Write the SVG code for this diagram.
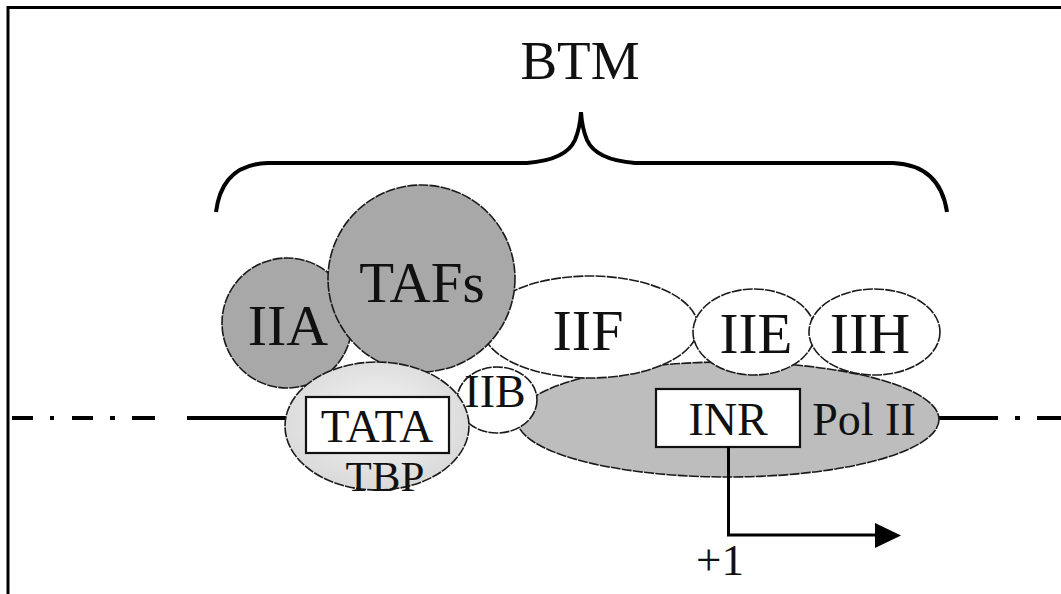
<svg xmlns="http://www.w3.org/2000/svg" width="1061" height="594" viewBox="0 0 1061 594">
<style>
.t{font-family:"Liberation Serif","Times New Roman",serif;fill:#111;text-anchor:middle}
.sh{stroke:#1a1a1a;stroke-width:1.6;stroke-dasharray:10 1.2}
.dark{fill:#a8a8a8}
.white{fill:#fff}
.pol{fill:#bdbdbd}
.box{fill:#fff;stroke:#111;stroke-width:2.2}
.line{stroke:#000;stroke-width:4;fill:none}
</style>
<defs>
<radialGradient id="tbpg" cx="0.5" cy="0.45" r="0.55">
<stop offset="0" stop-color="#f6f6f6"/>
<stop offset="1" stop-color="#d9d9d9"/>
</radialGradient>
</defs>
<rect width="1061" height="594" fill="#fff"/>
<path d="M8,594 L8,7.5 L1061,7.5" fill="none" stroke="#000" stroke-width="3"/>
<g id="btm-label"><text class="t" x="580" y="79" font-size="55">BTM</text></g>
<g id="brace"><path class="line" stroke-width="3.5" d="M216,212 Q222,164 268,163 L527,163 Q566,160 575,140 Q580,128 581,112 Q582,128 587,140 Q596,160 635,163 L893,163 Q940,165 947,212"/></g>
<g id="connectors">
<line class="line" x1="12" y1="418" x2="33" y2="418"/>
<line class="line" x1="50" y1="418" x2="54" y2="418"/>
<line class="line" x1="72" y1="418" x2="93" y2="418"/>
<line class="line" x1="110" y1="418" x2="115" y2="418"/>
<line class="line" x1="132" y1="418" x2="155" y2="418"/>
<line class="line" x1="187" y1="418" x2="290" y2="418"/>
<line class="line" x1="935" y1="418" x2="998" y2="418"/>
<line class="line" x1="1015" y1="418" x2="1020" y2="418"/>
<line class="line" x1="1037" y1="418" x2="1061" y2="418"/>
</g>
<g id="polII"><ellipse class="sh pol" cx="728" cy="419.5" rx="211" ry="57.5"/></g>
<g id="IIF"><ellipse class="sh white" cx="590" cy="327" rx="108" ry="51"/><text class="t" x="588" y="350" font-size="58">IIF</text></g>
<g id="IIE"><ellipse class="sh white" cx="754" cy="332" rx="61" ry="43"/><text class="t" x="756" y="353" font-size="57">IIE</text></g>
<g id="IIH"><ellipse class="sh white" cx="874.5" cy="332" rx="65.5" ry="43"/><text class="t" x="870" y="353" font-size="58">IIH</text></g>
<g id="IIB"><ellipse class="sh white" cx="497" cy="400" rx="40" ry="33"/><text class="t" x="495" y="407" font-size="46">IIB</text></g>
<g id="IIA"><circle class="sh dark" cx="287" cy="323" r="65"/><text class="t" x="288" y="345" font-size="58">IIA</text></g>
<g id="TAFs"><circle class="sh dark" cx="421.5" cy="278.5" r="93.5"/><text class="t" x="422" y="302" font-size="57">TAFs</text></g>
<g id="TBP"><ellipse class="sh" fill="url(#tbpg)" cx="377" cy="426" rx="92" ry="64"/><rect class="box" x="306" y="397" width="143" height="56"/><text class="t" x="377" y="442" font-size="47">TATA</text><text class="t" x="385" y="491" font-size="43">TBP</text></g>
<g id="INR"><rect class="box" x="656" y="389" width="144" height="58"/><text class="t" x="728" y="435" font-size="46">INR</text></g>
<g id="polII-label"><text class="t" x="864" y="435" font-size="46">Pol II</text></g>
<g id="tss"><path d="M728.5,447 L728.5,535 L880,535" fill="none" stroke="#000" stroke-width="3"/><polygon points="875,523 901,535.5 875,548" fill="#000"/><text class="t" x="720" y="575" font-size="45">+1</text></g>
</svg>
